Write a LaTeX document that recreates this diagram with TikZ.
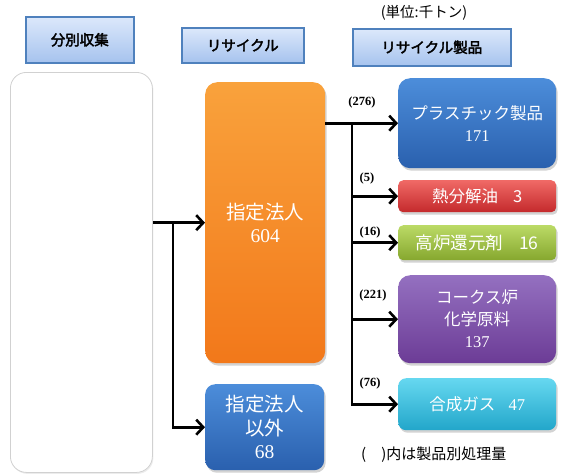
\documentclass[tikz,border=0pt]{standalone}
\usepackage{fontspec}
\setmainfont{Liberation Serif}
\newfontfamily\jp{Noto Sans CJK JP}
\newfontfamily\jpb[FakeBold=2.5]{Noto Sans CJK JP}
\usetikzlibrary{shadows,arrows.meta}
\definecolor{hdrline}{HTML}{4F81BD}
\definecolor{hdrtop}{HTML}{DCE8FB}
\definecolor{hdrbot}{HTML}{A6C3EE}
\definecolor{ortop}{HTML}{F9A23C}
\definecolor{orbot}{HTML}{F2781A}
\definecolor{bltop}{HTML}{4C8DDA}
\definecolor{blbot}{HTML}{2A60AE}
\definecolor{rdtop}{HTML}{F06A66}
\definecolor{rdbot}{HTML}{C42A2C}
\definecolor{grtop}{HTML}{BBDA66}
\definecolor{grbot}{HTML}{86A72E}
\definecolor{putop}{HTML}{9470C0}
\definecolor{pubot}{HTML}{6C3C96}
\definecolor{cytop}{HTML}{66D8F0}
\definecolor{cybot}{HTML}{22A6CA}
\begin{document}
\begin{tikzpicture}[x=1pt,y=-1pt,
  hdr/.style={draw=hdrline, line width=1.6pt, top color=hdrtop, bottom color=hdrbot,
    font=\jpb\fontsize{14.5}{17}\selectfont, inner sep=0pt, anchor=north west},
  pbox/.style={rounded corners=#1, text=white, inner sep=0pt, anchor=north west, align=center,
    drop shadow={opacity=0.35, shadow xshift=1.5pt, shadow yshift=-2.5pt},
    font=\jp\fontsize{16.5}{22}\selectfont},
  pbox/.default=10pt,
  arr/.style={line width=2.6pt, -{Straight Barb[length=7pt,width=15pt,line width=2.6pt]}},
  lab/.style={font=\bfseries\fontsize{12.5}{14}\selectfont, inner sep=0pt}
]
\useasboundingbox (0,0) rectangle (561,475);

% headers
\node[hdr, minimum width=108pt, minimum height=46pt] (h1) at (25,16) {分別収集};
\node[hdr, minimum width=122pt, minimum height=35pt] (h2) at (181,27) {リサイクル};
\node[hdr, minimum width=158pt, minimum height=37pt] (h3) at (352,28) {リサイクル製品};
\node[font=\jp\fontsize{14.5}{16}\selectfont, inner sep=0pt] (unit) at (424,13) {(単位:千トン)};

% collection box
\node[draw=black!18, fill=white, rounded corners=16pt, line width=0.8pt, anchor=north west,
  minimum width=142pt, minimum height=400pt, inner sep=0pt,
  drop shadow={opacity=0.15, shadow xshift=1pt, shadow yshift=-1.5pt}] (col) at (10,72) {};

% recycle boxes
\node[pbox=12pt, top color=ortop, bottom color=orbot, minimum width=120pt, minimum height=281pt,
  font=\jp\fontsize{19.5}{23}\selectfont] (ori) at (205,82) {指定法人\\{\rmfamily 604}};
\node[pbox=10pt, top color=bltop, bottom color=blbot, minimum width=119pt, minimum height=86pt,
  font=\jp\fontsize{19.5}{23.5}\selectfont] (oth) at (205,384) {指定法人\\以外\\{\rmfamily 68}};

% products
\node[pbox=12pt, top color=bltop, bottom color=blbot, minimum width=158pt, minimum height=90pt] (pla) at (398,78) {プラスチック製品\\{\rmfamily 171}};
\node[pbox=5pt, top color=rdtop, bottom color=rdbot, minimum width=158pt, minimum height=32pt] (oil) at (398,180) {熱分解油\hspace{0.9em}3};
\node[pbox=5pt, top color=grtop, bottom color=grbot, minimum width=158pt, minimum height=35pt, font=\jp\fontsize{17.5}{22}\selectfont] (red) at (398,225) {高炉還元剤\hspace{0.9em}16};
\node[pbox=12pt, top color=putop, bottom color=pubot, minimum width=158pt, minimum height=88pt] (cok) at (398,275) {コークス炉\\化学原料\\{\rmfamily 137}};
\node[pbox=8pt, top color=cytop, bottom color=cybot, minimum width=158pt, minimum height=52pt] (gas) at (398,378) {合成ガス\hspace{0.8em}{\rmfamily 47}};

% left connectors
\coordinate (j1) at (173,223);
\draw[arr] (col.east |- ori.west) -- (ori.west);
\draw[arr] (j1) |- (oth.west);

% right connectors
\coordinate (s1) at (352,123);
\draw[arr] (ori.east |- pla.west) -- (pla.west);
\draw[arr] (s1) |- (gas.west);
\draw[arr] (s1 |- oil.west) -- (oil.west);
\draw[arr] (s1 |- red.west) -- (red.west);
\draw[arr] (s1 |- cok.west) -- (cok.west);

% labels
\node[lab] (l1) at (362,102) {(276)};
\node[lab] (l2) at (367,178) {(5)};
\node[lab] (l3) at (370,232) {(16)};
\node[lab] (l4) at (373,295) {(221)};
\node[lab] (l5) at (370,383) {(76)};

\node[font=\jp\fontsize{15}{17}\selectfont, inner sep=0pt, anchor=west] (note) at (361,455) {(\hspace{1em})内は製品別処理量};
\end{tikzpicture}
\end{document}
